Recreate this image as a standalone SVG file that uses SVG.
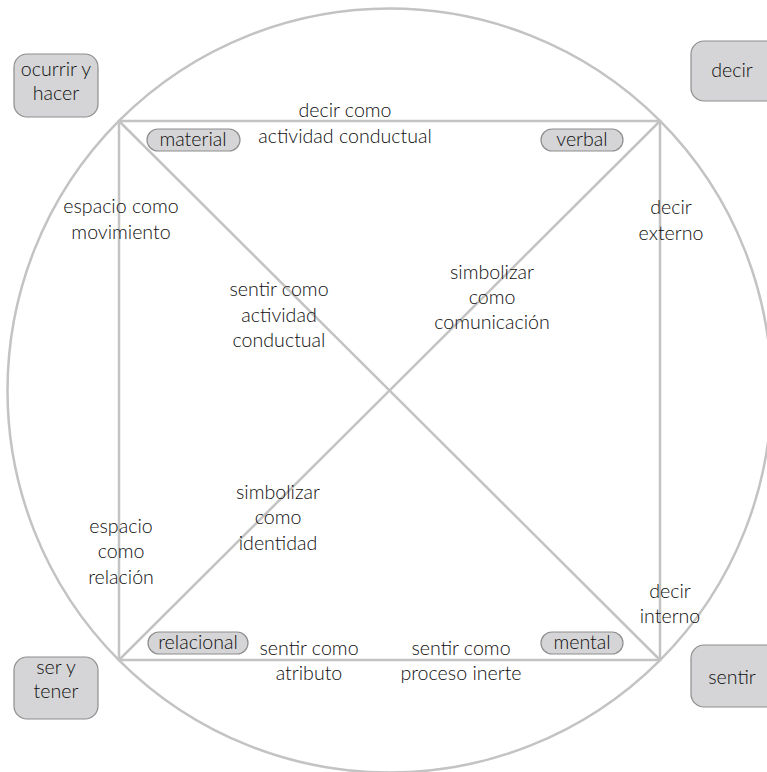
<svg xmlns="http://www.w3.org/2000/svg" width="767" height="772" viewBox="0 0 767 772">
  <style>
    .ln { fill: none; stroke: #c3c3c3; stroke-width: 2.5; }
    .box { fill: #d5d5d7; stroke: #8e8e8e; stroke-width: 1.2; }
    .pill { fill: #d5d5d7; stroke: #8e8e8e; stroke-width: 1.2; }
    text { font-family: Lato, "Liberation Sans", sans-serif; font-weight: 300; font-size: 19.6px; fill: #0e0e0e; text-anchor: middle; }
  </style>
  <rect width="767" height="772" fill="#ffffff"/>

  <!-- connectors: circle, square and diagonals -->
  <g id="connectors">
    <circle class="ln" cx="389.5" cy="390.5" r="382"/>
    <rect class="ln" x="119" y="121" width="541" height="539"/>
    <line class="ln" x1="119" y1="121" x2="660" y2="660"/>
    <line class="ln" x1="660" y1="121" x2="119" y2="660"/>
  </g>

  <!-- outer nodes -->
  <g id="ocurrir-hacer">
    <rect class="box" x="14" y="54" width="84" height="63" rx="13"/>
    <text x="56" y="76">ocurrir y</text>
    <text x="56" y="100">hacer</text>
  </g>
  <g id="decir">
    <rect class="box" x="691" y="41" width="90" height="60" rx="13"/>
    <text x="732" y="77">decir</text>
  </g>
  <g id="ser-tener">
    <rect class="box" x="14" y="657" width="84" height="62" rx="13"/>
    <text x="56" y="674">ser y</text>
    <text x="56" y="698">tener</text>
  </g>
  <g id="sentir">
    <rect class="box" x="691" y="645" width="90" height="62" rx="13"/>
    <text x="732" y="684">sentir</text>
  </g>

  <!-- process pills at the corners -->
  <g id="material">
    <rect class="pill" x="147" y="129" width="93" height="22" rx="11"/>
    <text x="193" y="146">material</text>
  </g>
  <g id="verbal">
    <rect class="pill" x="541" y="129" width="82" height="22" rx="11"/>
    <text x="582" y="146">verbal</text>
  </g>
  <g id="relacional">
    <rect class="pill" x="148" y="632" width="100" height="22" rx="11"/>
    <text x="198" y="649">relacional</text>
  </g>
  <g id="mental">
    <rect class="pill" x="541" y="632" width="82" height="22" rx="11"/>
    <text x="582" y="649">mental</text>
  </g>

  <!-- edge labels -->
  <g id="labels">
    <text x="345" y="117">decir como</text>
    <text x="345" y="143">actividad conductual</text>

    <text x="121" y="213">espacio como</text>
    <text x="121" y="239">movimiento</text>

    <text x="279" y="296">sentir como</text>
    <text x="279" y="322">actividad</text>
    <text x="279" y="347">conductual</text>

    <text x="492" y="279">simbolizar</text>
    <text x="492" y="304">como</text>
    <text x="492" y="329">comunicación</text>

    <text x="671" y="214">decir</text>
    <text x="671" y="240">externo</text>

    <text x="278" y="499">simbolizar</text>
    <text x="278" y="524">como</text>
    <text x="278" y="550">identidad</text>

    <text x="121" y="533">espacio</text>
    <text x="121" y="558">como</text>
    <text x="121" y="584">relación</text>

    <text x="670" y="598">decir</text>
    <text x="670" y="623">interno</text>

    <text x="309" y="655">sentir como</text>
    <text x="309" y="680">atributo</text>

    <text x="461" y="655">sentir como</text>
    <text x="461" y="680">proceso inerte</text>
  </g>
</svg>
